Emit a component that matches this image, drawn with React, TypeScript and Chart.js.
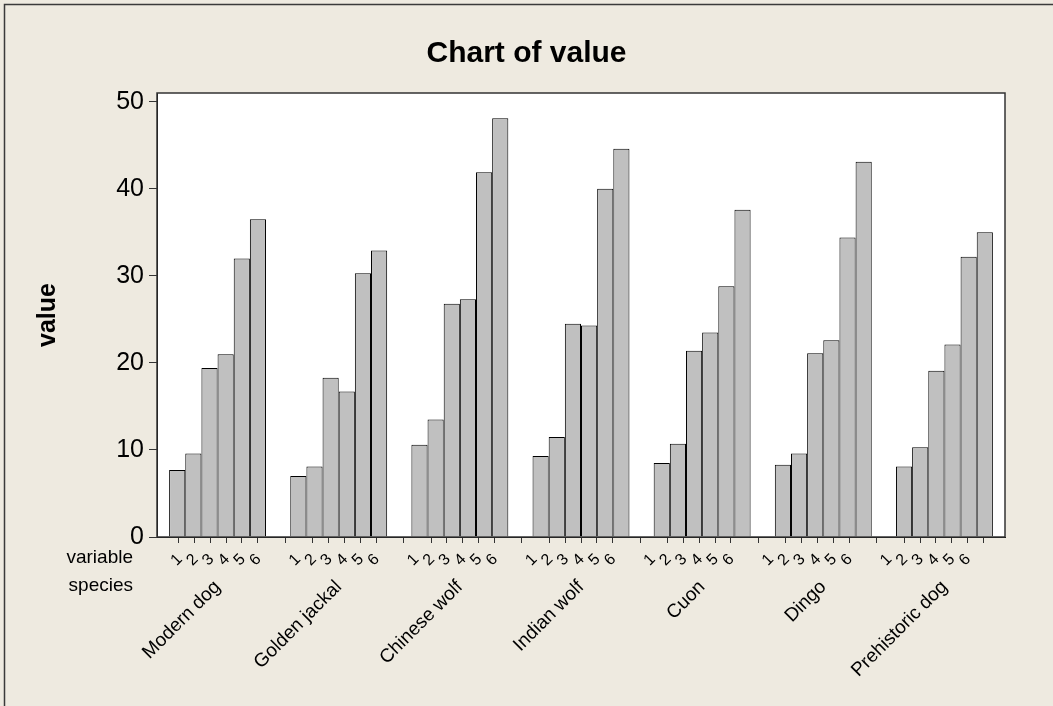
import React, { useEffect, useRef } from 'react';
import { Chart, registerables } from 'chart.js';

Chart.register(...registerables);

const species = ['Modern dog', 'Golden jackal', 'Chinese wolf', 'Indian wolf', 'Cuon', 'Dingo', 'Prehistoric dog'];
const variables = ['1', '2', '3', '4', '5', '6'];

const var1 = [7.7, 7.0, 10.6, 9.3, 8.5, 8.3, 8.1];
const var2 = [9.6, 8.1, 13.5, 11.5, 10.7, 9.6, 10.3];
const var3 = [19.4, 18.3, 26.8, 24.5, 21.4, 21.1, 19.1];
const var4 = [21.0, 16.7, 27.3, 24.3, 23.5, 22.6, 22.1];
const var5 = [32.0, 30.3, 41.9, 40.0, 28.8, 34.4, 32.2];
const var6 = [36.5, 32.9, 48.1, 44.6, 37.6, 43.1, 35.0];

const seriesList = [var1, var2, var3, var4, var5, var6];
const yTickStep = 10;
const yMax = 51;

const FONT = "'Liberation Sans', Arial, sans-serif";
const CAT_PCT = 0.8;

export default function App() {
  const ref = useRef<HTMLCanvasElement | null>(null);

  useEffect(() => {
    const canvas = ref.current;
    if (!canvas) return;

    const nVar = variables.length;
    const digitTicks: number[] = [];
    species.forEach((_, i) => {
      for (let k = 0; k < nVar; k++) {
        digitTicks.push(i + (k - (nVar - 1) / 2) * (CAT_PCT / nVar));
      }
    });

    const decor = {
      id: 'decor',
      beforeDraw(chart: any) {
        const { ctx, width, height, chartArea } = chart;
        ctx.save();
        ctx.fillStyle = '#EEEAE0';
        ctx.fillRect(0, 0, width, height);
        ctx.fillStyle = '#FFFFFF';
        ctx.fillRect(chartArea.left, chartArea.top, chartArea.right - chartArea.left, chartArea.bottom - chartArea.top);
        ctx.strokeStyle = '#3a3a3a';
        ctx.lineWidth = 1.5;
        ctx.beginPath();
        ctx.moveTo(4.5, height);
        ctx.lineTo(4.5, 4.5);
        ctx.lineTo(width, 4.5);
        ctx.stroke();
        ctx.restore();
      },
      afterDraw(chart: any) {
        const { ctx, chartArea } = chart;
        ctx.save();
        ctx.strokeStyle = '#333333';
        ctx.lineWidth = 1.5;
        ctx.strokeRect(chartArea.left, chartArea.top, chartArea.right - chartArea.left, chartArea.bottom - chartArea.top);
        ctx.fillStyle = '#000';
        ctx.font = `19px ${FONT}`;
        ctx.textAlign = 'right';
        ctx.textBaseline = 'middle';
        ctx.fillText('variable', 133, 558);
        ctx.fillText('species', 133, 586);
        ctx.restore();
      },
    };

    const chart = new Chart(canvas, {
      type: 'bar',
      data: {
        labels: species,
        datasets: seriesList.map((vals, k) => ({
          label: variables[k],
          data: vals,
          backgroundColor: '#C0C0C0',
          borderColor: '#000000',
          borderWidth: 1,
          categoryPercentage: CAT_PCT,
          barPercentage: 1.0,
          xAxisID: 'x',
          yAxisID: 'y',
        })),
      },
      options: {
        responsive: false,
        animation: false,
        layout: { padding: { left: 0, top: 0, right: 0, bottom: 0 } },
        plugins: {
          legend: { display: false },
          tooltip: { enabled: false },
          title: {
            display: true,
            text: 'Chart of value',
            color: '#000',
            font: { family: FONT, size: 30, weight: 'bold' },
            padding: { top: 36, bottom: 21 },
          },
        },
        scales: {
          x: {
            type: 'category',
            position: 'bottom',
            weight: 1,
            grid: { display: false },
            border: { display: false },
            ticks: {
              color: '#000',
              font: { family: FONT, size: 19 },
              minRotation: 45,
              maxRotation: 45,
              autoSkip: false,
              padding: 1,
              labelOffset: 0,
            },
            afterFit: (s: any) => { s.height = 139; },
          },
          xv: {
            type: 'linear',
            position: 'bottom',
            weight: 0,
            min: -0.5,
            max: species.length - 0.5,
            afterBuildTicks: (a: any) => { a.ticks = digitTicks.map((v) => ({ value: v })); },
            grid: { display: true, drawOnChartArea: false, tickLength: 6, color: '#333333', lineWidth: 1 },
            border: { display: true, color: '#000' },
            ticks: {
              color: '#000',
              font: { family: FONT, size: 16 },
              minRotation: 45,
              maxRotation: 45,
              autoSkip: false,
              padding: 7,
              labelOffset: -7,
              callback: (_v: any, i: number) => variables[i % nVar],
            },
            afterFit: (s: any) => { s.height = 30; },
          },
          y: {
            type: 'linear',
            position: 'left',
            min: 0,
            max: yMax,
            grid: { drawOnChartArea: false, tickLength: 8, color: '#333' },
            border: { display: true, color: '#000' },
            ticks: {
              stepSize: yTickStep,
              includeBounds: false,
              color: '#000',
              font: { family: FONT, size: 25 },
              padding: 5,
            },
            title: {
              display: true,
              text: 'value',
              color: '#000',
              font: { family: FONT, size: 25, weight: 'bold' },
              padding: { top: 33, bottom: 0 },
            },
            afterFit: (s: any) => { s.width = 157; },
          },
          yr: {
            type: 'linear',
            position: 'right',
            display: true,
            grid: { display: false },
            border: { display: false },
            ticks: { display: false },
            afterFit: (s: any) => { s.width = 48; },
          },
        },
      } as any,
      plugins: [decor],
    });

    return () => chart.destroy();
  }, []);

  return (
    <div style={{ position: 'fixed', left: 0, top: 0, width: 1053, height: 706 }}>
      <canvas ref={ref} width={1053} height={706} style={{ display: 'block', width: 1053, height: 706 }} />
    </div>
  );
}
